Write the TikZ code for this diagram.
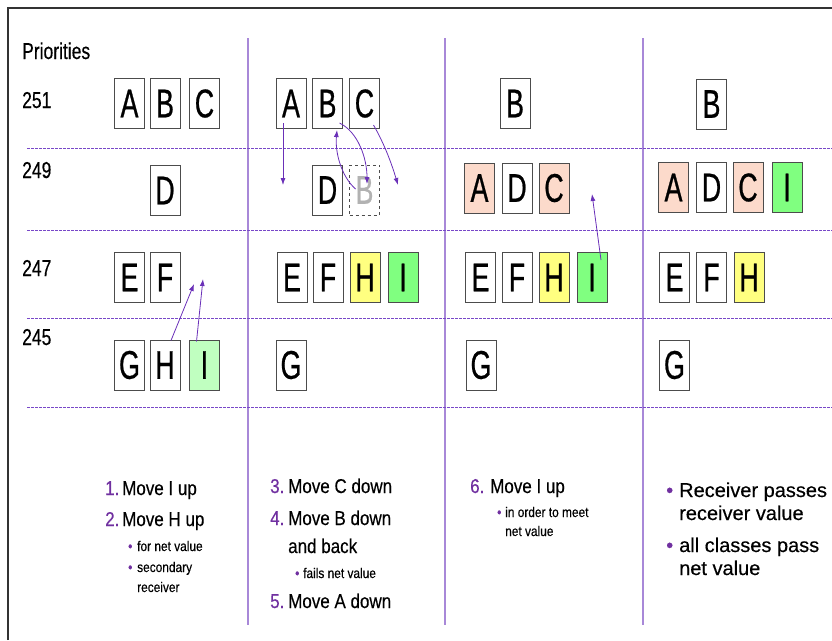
\documentclass[tikz,border=0pt]{standalone}
\usepackage{fontspec}
\setmainfont{Liberation Sans}
\newfontfamily\boxf[FakeStretch=0.67, FakeBold=0.6]{Liberation Sans}
\newfontfamily\labf[FakeStretch=0.76, FakeBold=0.4]{Liberation Sans}
\newfontfamily\txtf[FakeStretch=0.85, FakeBold=0.4]{Liberation Sans}
\newfontfamily\widf[FakeBold=0.4]{Liberation Sans}
\usetikzlibrary{arrows.meta}
\definecolor{purp}{HTML}{7030A0}
\definecolor{arrc}{HTML}{6A30B8}
\definecolor{vline}{HTML}{A888D8}
\definecolor{hline}{HTML}{7848C8}
\definecolor{salmon}{HTML}{FCDACB}
\definecolor{yel}{HTML}{FFFF80}
\definecolor{grn}{HTML}{80FF80}
\definecolor{ltgrn}{HTML}{C0FFC0}
\begin{document}
\begin{tikzpicture}[x=1pt,y=-1pt,
  lb/.style={draw=black!70, line width=1pt, minimum width=30pt, minimum height=50pt, inner sep=0pt, font={\boxf\fontsize{40}{40}\selectfont}},
  ghost/.style={lb, draw=black!70, dashed, text=black!30},
  mv/.style={draw=arrc, line width=0.8pt, -{Latex[length=7pt,width=5pt]}},
  lab/.style={anchor=base west, inner sep=0pt, font={\labf\fontsize{23}{23}\selectfont}},
  tx/.style={anchor=base west, inner sep=0pt, font={\txtf\fontsize{20}{20}\selectfont}},
  num/.style={tx, text=purp},
  sm/.style={anchor=base west, inner sep=0pt, font={\txtf\fontsize{14}{14}\selectfont}},
  smb/.style={sm, text=purp},
  tw/.style={anchor=base west, inner sep=0pt, font={\widf\fontsize{20}{20}\selectfont}},
  twb/.style={tw, text=purp},
  vl/.style={draw=vline, line width=1.2pt},
  hl/.style={draw=hline, line width=1pt, dash pattern=on 2.5pt off 1.5pt}
]
\useasboundingbox (0,0) rectangle (832,640);
% frame
\draw[line width=1.5pt, black!80] (8,640) -- (8,8) -- (832,8);
% grid lines
\draw[vl] (248,38) -- (248,625);
\draw[vl] (445,38) -- (445,625);
\draw[vl] (643,38) -- (643,625);
\draw[hl] (27,148) -- (832,148);
\draw[hl] (27,230) -- (832,230);
\draw[hl] (27,318) -- (832,318);
\draw[hl] (27,407) -- (832,407);
% labels
\node[lab] (prio) at (22,59) {Priorities};
\node[lab] (p251) at (22,108) {251};
\node[lab] (p249) at (22,178) {249};
\node[lab] (p247) at (22,276) {247};
\node[lab] (p245) at (22,345) {245};
% column 1
\node[lb] (a1) at (129.5,103.5) {A};
\node[lb] (b1) at (165,103.5) {B};
\node[lb] (c1) at (204.5,103.5) {C};
\node[lb] (d1) at (165,190.5) {D};
\node[lb] (e1) at (129.5,277.5) {E};
\node[lb] (f1) at (165,277.5) {F};
\node[lb] (g1) at (129.5,365) {G};
\node[lb] (h1) at (165,365) {H};
\node[lb, fill=ltgrn] (i1) at (204.5,365) {I};
\coordinate (h1e) at (194,284);
\coordinate (i1e) at (203,279);
\draw[mv] ([xshift=6pt,yshift=-1pt]h1.north) -- (h1e);
\draw[mv] ([xshift=-8pt,yshift=-2pt]i1.north) -- (i1e);
% column 2
\node[lb] (a2) at (291,103.5) {A};
\node[lb] (b2) at (327.5,103.5) {B};
\node[lb] (c2) at (364.5,103.5) {C};
\node[lb] (d2) at (327.5,190) {D};
\node[ghost] (gb2) at (364.5,190) {B};
\node[lb] (e2) at (292,277.5) {E};
\node[lb] (f2) at (328,277.5) {F};
\node[lb, fill=yel] (h2) at (365,277.5) {H};
\node[lb, fill=grn] (i2) at (403,277.5) {I};
\node[lb] (g2) at (291,365) {G};
\coordinate (a2e) at (283,185);
\coordinate (b2e) at (367,184);
\coordinate (gbe) at (337,130);
\coordinate (c2e) at (398,185);
\draw[mv] ([xshift=-8pt,yshift=6pt]a2.south) -- (a2e);
\draw[mv] ([xshift=12pt,yshift=6pt]b2.south) .. controls (358,132) and (367,158) .. (b2e);
\draw[mv] ([xshift=-9pt,yshift=1pt]gb2.center) .. controls (341,176) and (335,152) .. (gbe);
\draw[mv] ([xshift=9pt,yshift=4pt]c2.south) .. controls (385,145) and (392,165) .. (c2e);
% column 3
\node[lb] (b3) at (515,103.5) {B};
\node[lb, fill=salmon] (a3) at (479.5,188) {A};
\node[lb] (d3) at (517,188) {D};
\node[lb, fill=salmon] (c3) at (554,188) {C};
\node[lb] (e3) at (480.5,277.5) {E};
\node[lb] (f3) at (517,277.5) {F};
\node[lb, fill=yel] (h3) at (554,277.5) {H};
\node[lb, fill=grn] (i3) at (592,277.5) {I};
\node[lb] (g3) at (481,365) {G};
\coordinate (i3e) at (592,194);
\draw[mv] ([xshift=9pt,yshift=-8pt]i3.north) -- (i3e);
% column 4
\node[lb] (b4) at (711.5,104) {B};
\node[lb, fill=salmon] (a4) at (673.5,187.5) {A};
\node[lb] (d4) at (711.5,187.5) {D};
\node[lb, fill=salmon] (c4) at (748,187.5) {C};
\node[lb, fill=grn] (i4) at (787,187.5) {I};
\node[lb] (e4) at (674.5,277.5) {E};
\node[lb] (f4) at (711.5,277.5) {F};
\node[lb, fill=yel] (h4) at (749,277.5) {H};
\node[lb] (g4) at (674.5,365) {G};
% text column 1
\node[num] (n1) at (105,495) {1.};
\node[tx] (t1) at (122,495) {Move I up};
\node[num] (n2) at (105,526) {2.};
\node[tx] (t2) at (122,526) {Move H up};
\node[smb] (u1) at (128,551) {•};
\node[sm] (s1) at (137,551) {for net value};
\node[smb] (u2) at (128,572) {•};
\node[sm] (s2) at (137,572) {secondary};
\node[sm] (s3) at (137,592) {receiver};
% text column 2
\node[num] (n3) at (270,493) {3.};
\node[tx] (t3) at (288,493) {Move C down};
\node[num] (n4) at (270,525) {4.};
\node[tx] (t4) at (288,525) {Move B down};
\node[tx] (t4b) at (288,553) {and back};
\node[smb] (u3) at (295,578) {•};
\node[sm] (s4) at (303,578) {fails net value};
\node[num] (n5) at (270,608) {5.};
\node[tx] (t5) at (288,608) {Move A down};
% text column 3
\node[num] (n6) at (470,493) {6.};
\node[tx] (t6) at (490,493) {Move I up};
\node[smb] (u4) at (497,517) {•};
\node[sm] (s5) at (505,517) {in order to meet};
\node[sm] (s6) at (505,536) {net value};
% text column 4
\node[twb] (u5) at (666,497) {•};
\node[tw] (r1) at (679,497) {Receiver passes};
\node[tw] (r2) at (679,520) {receiver value};
\node[twb] (u6) at (666,552) {•};
\node[tw] (r3) at (679,552) {all classes pass};
\node[tw] (r4) at (679,575) {net value};
\end{tikzpicture}
\end{document}
